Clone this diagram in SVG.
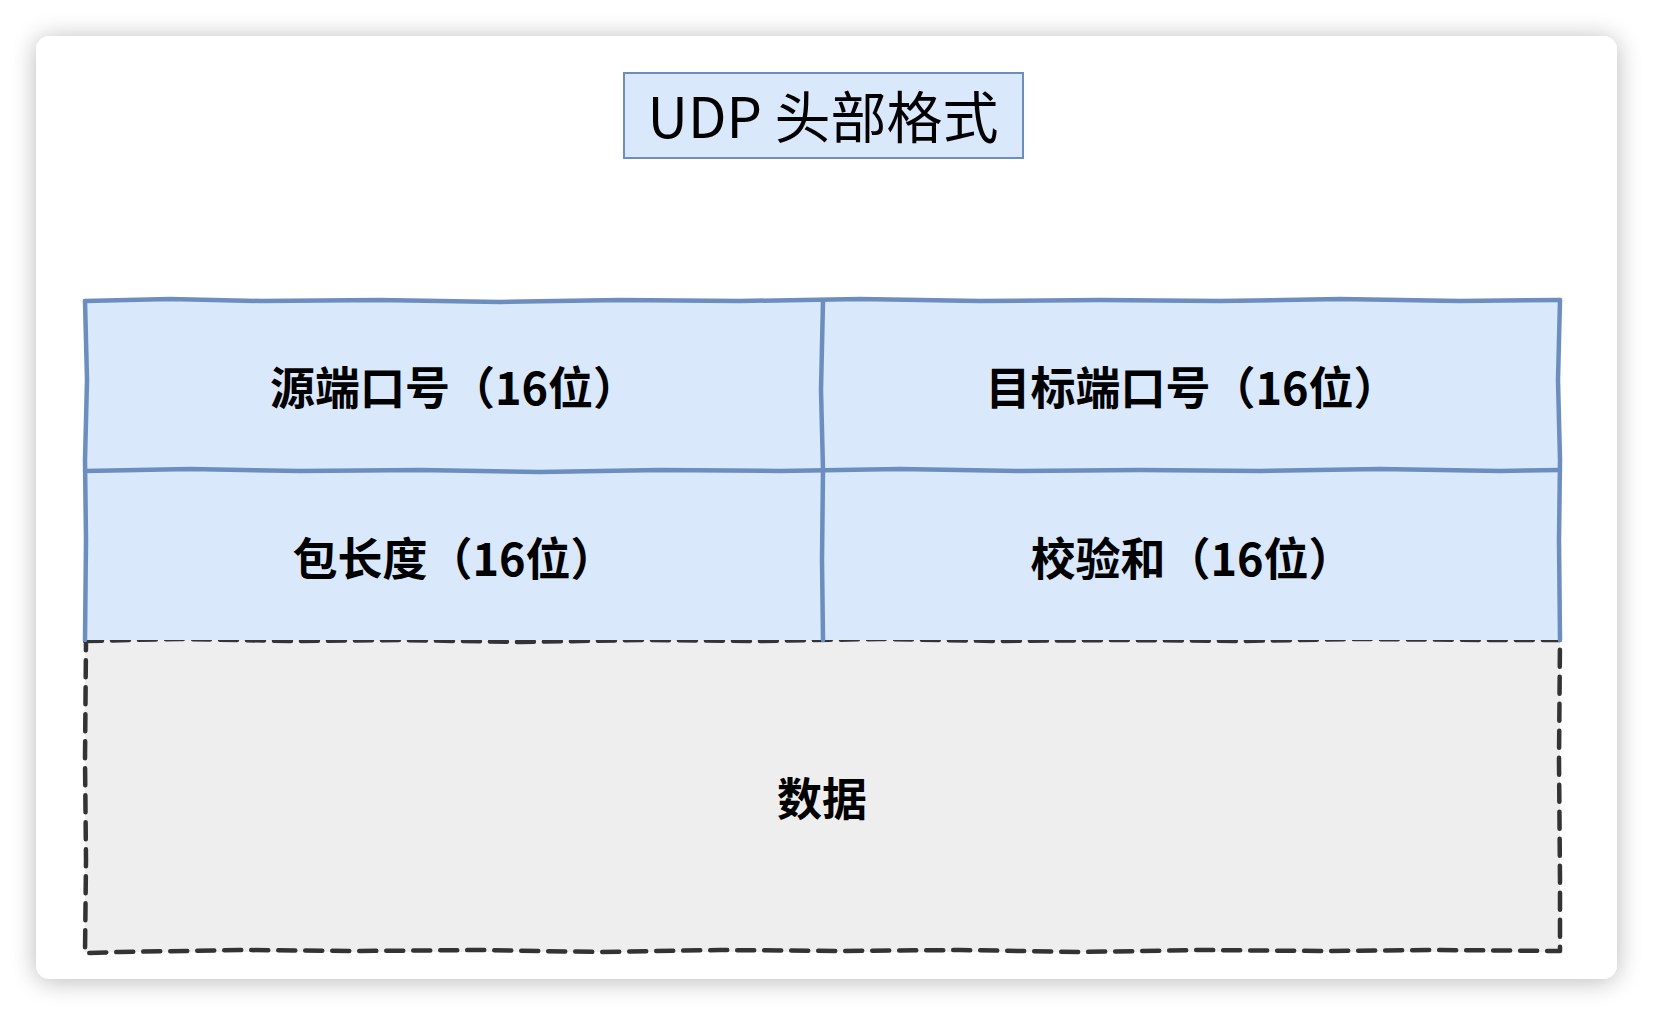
<svg xmlns="http://www.w3.org/2000/svg" width="1654" height="1016" viewBox="0 0 1654 1016">
<defs>
<filter id="shadow" x="-10%" y="-10%" width="120%" height="120%">
<feGaussianBlur in="SourceAlpha" stdDeviation="13"/>
<feOffset dx="0" dy="2" result="b"/>
<feComponentTransfer><feFuncA type="linear" slope="0.28"/></feComponentTransfer>
<feMerge><feMergeNode/><feMergeNode in="SourceGraphic"/></feMerge>
</filter>
<style>
.hdr{fill:#dae8fc;stroke:none}
.blue{fill:none;stroke:#6c8ebf;stroke-width:4.5;stroke-linecap:round;stroke-linejoin:round}
.dash{fill:none;stroke:#333333;stroke-width:4.5;stroke-dasharray:17 10;stroke-linecap:round;stroke-linejoin:round}
.lbl{font-family:"Noto Sans CJK SC","Noto Sans",sans-serif;font-weight:bold;font-size:45px;fill:#000;text-anchor:middle}
.ttl{font-family:"Noto Sans CJK SC","Noto Sans",sans-serif;font-weight:normal;font-size:56px;fill:#000;text-anchor:middle}
</style>
</defs>
<rect x="0" y="0" width="1654" height="1016" fill="#ffffff"/>
<rect x="36" y="36" width="1581" height="943" rx="14" fill="#ffffff" filter="url(#shadow)"/>

<g id="title">
<rect x="624" y="73" width="399" height="85" fill="#dae8fc" stroke="#6c8ebf" stroke-width="2"/>
<text class="ttl" x="823" y="138">UDP 头部格式</text>
</g>

<g id="data">
<rect x="85" y="640" width="1475" height="312" fill="#eeeeee"/>
<path class="dash" d="M85,641 L180,639 L290,641 L400,640 L520,642 L640,640 L760,641 L880,639 L1000,641 L1120,640 L1240,641 L1360,639 L1480,640 L1560,640 L1559,760 L1560,880 L1560,951 L1440,950 L1320,951 L1200,950 L1080,952 L960,950 L840,951 L720,950 L600,952 L480,950 L360,951 L240,950 L120,952 L85,953 L86,860 L85,760 L86,641"/>
<text class="lbl" x="822" y="816">数据</text>
</g>

<g id="header">
<rect x="85" y="301" width="1475" height="339" class="hdr"/>
</g>

<g id="src-port">
<text class="lbl" x="454" y="405">源端口号（16位）</text>
</g>
<g id="dst-port">
<text class="lbl" x="1192" y="405">目标端口号（16位）</text>
</g>
<g id="length">
<text class="lbl" x="454" y="576">包长度（16位）</text>
</g>
<g id="checksum">
<text class="lbl" x="1192" y="576">校验和（16位）</text>
</g>

<g id="connectors">
<path class="blue" d="M85,301 L170,299 L260,301 L380,300 L500,302 L620,300 L740,301 L860,299 L980,301 L1100,300 L1220,301 L1340,299 L1460,301 L1560,300"/>
<path class="blue" d="M85,471 L190,469 L300,471 L420,470 L540,472 L660,470 L780,471 L900,469 L1020,471 L1140,470 L1260,471 L1380,469 L1500,471 L1560,470"/>
<path class="blue" d="M85,301 L87,380 L85,460 L86,540 L85,640"/>
<path class="blue" d="M1560,300 L1558,380 L1560,460 L1559,540 L1560,640"/>
<path class="blue" d="M823,301 L821,390 L823,470 L822,560 L823,640"/>
</g>
</svg>
